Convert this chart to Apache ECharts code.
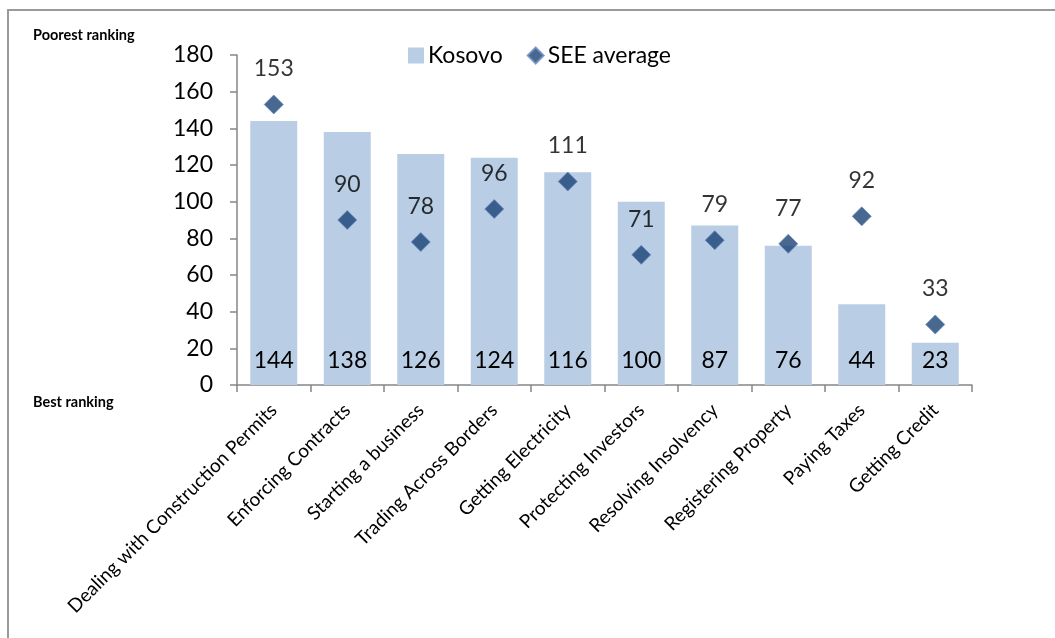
<!doctype html>
<html>
<head>
<meta charset="utf-8">
<title></title>
<script src="https://cdn.jsdelivr.net/npm/echarts@6/dist/echarts.min.js"></script>
<style>
  html, body { margin: 0; padding: 0; background: #fff; }
  #container { width: 1055px; height: 638px; }
</style>
</head>
<body>
<div id="container"></div>
<script type="text/javascript">
  var categories = ['Dealing with Construction Permits', 'Enforcing Contracts', 'Starting a business',
    'Trading Across Borders', 'Getting Electricity', 'Protecting Investors', 'Resolving Insolvency',
    'Registering Property', 'Paying Taxes', 'Getting Credit'];
  var kosovo = [144, 138, 126, 124, 116, 100, 87, 76, 44, 23];
  var seeAverage = [153, 90, 78, 96, 111, 71, 79, 77, 92, 33];

  var font = 'Lato, "Open Sans", sans-serif';

  var option = {
    animation: false,
    textStyle: { fontFamily: font },
    legend: {
      left: 403,
      top: 39,
      itemWidth: 16,
      itemHeight: 16,
      itemGap: 24,
      textStyle: { fontSize: 23, color: '#000', fontFamily: font, padding: [0, 0, 0, -1] },
      data: [
        { name: 'Kosovo', icon: 'rect' },
        { name: 'SEE average', icon: 'diamond' }
      ]
    },
    graphic: [
      { type: 'rect', shape: { x: 8, y: 10, width: 1100, height: 700 },
        style: { fill: 'none', stroke: '#9a9a9a', lineWidth: 2 } },
      { type: 'text', left: 33, top: 28,
        style: { text: 'Poorest ranking', font: 'bold 14.5px ' + font, fill: '#000' } },
      { type: 'text', left: 33, top: 395,
        style: { text: 'Best ranking', font: 'bold 14.5px ' + font, fill: '#000' } }
    ],
    grid: { left: 237, right: 83, top: 55, bottom: 253 },
    xAxis: {
      type: 'category',
      data: categories,
      axisLine: { lineStyle: { color: '#868686', width: 1.5 } },
      axisTick: { show: true, length: 7, lineStyle: { color: '#868686', width: 1.5 } },
      axisLabel: { interval: 0, rotate: 45, margin: 22, fontSize: 19, color: '#000', fontFamily: font }
    },
    yAxis: {
      type: 'value',
      min: 0,
      max: 180,
      interval: 20,
      splitLine: { show: false },
      axisLine: { show: true, lineStyle: { color: '#868686', width: 1.5 } },
      axisTick: { show: true, length: 7, lineStyle: { color: '#868686', width: 1.5 } },
      axisLabel: { margin: 24, fontSize: 23, color: '#000', fontFamily: font }
    },
    series: [
      {
        name: 'Kosovo',
        type: 'bar',
        data: kosovo,
        barWidth: 47,
        itemStyle: { color: '#B9CDE5' },
        label: { show: true, position: 'insideBottom', distance: 13, fontSize: 23, color: '#000', fontFamily: font }
      },
      {
        name: 'SEE average',
        type: 'scatter',
        data: seeAverage,
        symbol: 'diamond',
        symbolSize: 19,
        itemStyle: { color: '#1A4274', borderColor: '#6B8CC0', borderWidth: 1 },
        label: { show: true, position: 'top', distance: 14, fontSize: 23, color: '#000', fontFamily: font }
      }
    ]
  };

  var myChart = echarts.init(document.getElementById('container'));
  myChart.setOption(option);
</script>
</body>
</html>
